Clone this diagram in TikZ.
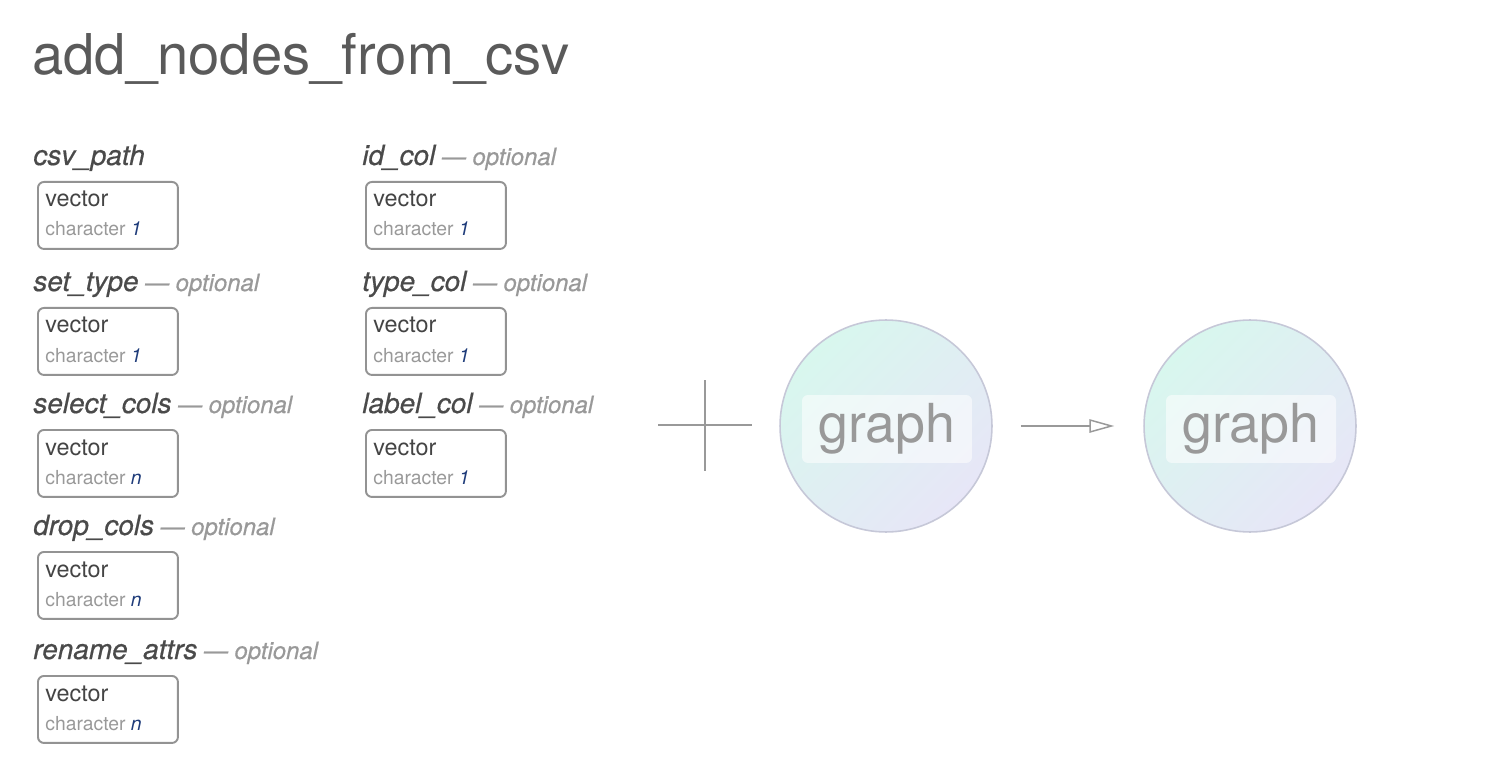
\documentclass[tikz,border=0pt]{standalone}
\usepackage{fontspec}
\setmainfont{TeX Gyre Heros}
\usetikzlibrary{arrows.meta}

\definecolor{titlegray}{HTML}{5A5A5A}
\definecolor{labelgray}{HTML}{4A4A4A}
\definecolor{optgray}{HTML}{999999}
\definecolor{boxgray}{HTML}{939393}
\definecolor{vecgray}{HTML}{444444}
\definecolor{numblue}{HTML}{1F3C7A}
\definecolor{mint}{HTML}{D8F7EE}
\definecolor{lavender}{HTML}{E7E6F7}
\definecolor{ringgray}{HTML}{C6C8D8}
\definecolor{linegray}{HTML}{999999}

\newcommand{\optlabel}{{\color{optgray}\fontsize{13.6}{16}\selectfont\ --- optional}}
\newcommand{\numlabel}[1]{{\color{numblue}\itshape #1}}

\begin{document}
\begin{tikzpicture}[x=0.02cm, y=-0.02cm,
  argname/.style={anchor=base west, inner sep=0, text=labelgray,
    font=\fontsize{15.9}{18}\selectfont\itshape\addfontfeature{FakeBold=0.6}},
  typebox/.style={draw=boxgray, line width=1.1pt, rounded corners=3.4pt,
    minimum width=2.8cm, minimum height=1.34cm, anchor=north west, inner sep=0},
  vtext/.style={anchor=base west, inner sep=0, text=vecgray,
    font=\fontsize{13.3}{16}\selectfont},
  ctext/.style={anchor=base west, inner sep=0, text=optgray,
    font=\fontsize{11}{13}\selectfont},
  graphnode/.style={circle, draw=ringgray, line width=0.9pt, minimum size=4.24cm,
    top color=mint, bottom color=lavender, shading angle=45},
  graphtag/.style={fill=white, fill opacity=0.55, text opacity=1, rounded corners=3.4pt,
    minimum width=3.4cm, minimum height=1.36cm, text=optgray,
    font=\fontsize{30.6}{36}\selectfont},
  flow/.style={draw=linegray, line width=0.85pt,
    -{Triangle[open, length=0.5cm, width=0.27cm]},
    shorten <=0.56cm, shorten >=0.58cm},
  ]
  \useasboundingbox (0, 0) rectangle (1510, 780);

  \node[anchor=base west, inner sep=0, text=titlegray,
    font=\fontsize{32}{38}\selectfont] (title) at (32, 75) {add\_nodes\_from\_csv};

  % first column
  \node[argname] (csvpath) at (33, 165) {csv\_path};
  \node[typebox] (csvpathbox) at (37, 181) {};
  \node[vtext] (csvpathvec) at (45, 207) {vector};
  \node[ctext] (csvpathchr) at (45, 236) {character \numlabel{1}};

  \node[argname] (settype) at (33, 291) {set\_type\optlabel};
  \node[typebox] (settypebox) at (37, 307) {};
  \node[vtext] (settypevec) at (45, 333) {vector};
  \node[ctext] (settypechr) at (45, 362) {character \numlabel{1}};

  \node[argname] (selectcols) at (33, 413) {select\_cols\optlabel};
  \node[typebox] (selectcolsbox) at (37, 429) {};
  \node[vtext] (selectcolsvec) at (45, 455) {vector};
  \node[ctext] (selectcolschr) at (45, 484) {character \numlabel{n}};

  \node[argname] (dropcols) at (33, 535) {drop\_cols\optlabel};
  \node[typebox] (dropcolsbox) at (37, 551) {};
  \node[vtext] (dropcolsvec) at (45, 577) {vector};
  \node[ctext] (dropcolschr) at (45, 606) {character \numlabel{n}};

  \node[argname] (renameattrs) at (33, 659) {rename\_attrs\optlabel};
  \node[typebox] (renameattrsbox) at (37, 675) {};
  \node[vtext] (renameattrsvec) at (45, 701) {vector};
  \node[ctext] (renameattrschr) at (45, 730) {character \numlabel{n}};

  % second column
  \node[argname] (idcol) at (362, 165) {id\_col\optlabel};
  \node[typebox] (idcolbox) at (365, 181) {};
  \node[vtext] (idcolvec) at (373, 207) {vector};
  \node[ctext] (idcolchr) at (373, 236) {character \numlabel{1}};

  \node[argname] (typecol) at (362, 291) {type\_col\optlabel};
  \node[typebox] (typecolbox) at (365, 307) {};
  \node[vtext] (typecolvec) at (373, 333) {vector};
  \node[ctext] (typecolchr) at (373, 362) {character \numlabel{1}};

  \node[argname] (labelcol) at (362, 413) {label\_col\optlabel};
  \node[typebox] (labelcolbox) at (365, 429) {};
  \node[vtext] (labelcolvec) at (373, 455) {vector};
  \node[ctext] (labelcolchr) at (373, 484) {character \numlabel{1}};

  % plus sign
  \draw[linegray, line width=0.85pt] (658, 425) -- (752, 425);
  \draw[linegray, line width=0.85pt] (705, 380) -- (705, 471);

  % graphs
  \node[graphnode] (g1) at (886, 426) {};
  \node[graphtag] (g1tag) at (887, 429) {graph};
  \node[graphnode] (g2) at (1250, 426) {};
  \node[graphtag] (g2tag) at (1251, 429) {graph};

  \draw[flow] (g1) -- (g2);
\end{tikzpicture}
\end{document}
